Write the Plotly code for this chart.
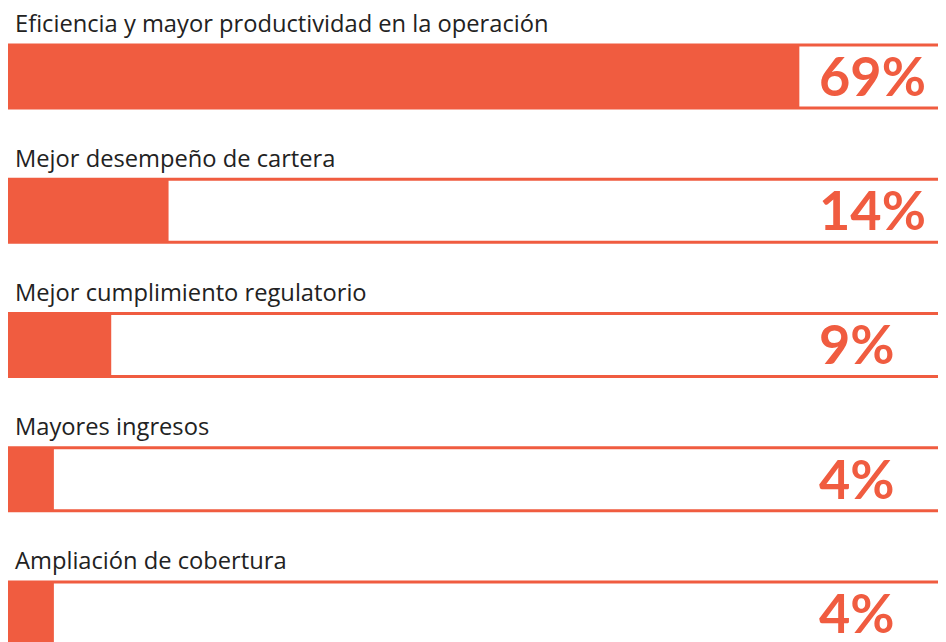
import plotly.graph_objects as go

categories = [
    "Eficiencia y mayor productividad en la operación",
    "Mejor desempeño de cartera",
    "Mejor cumplimiento regulatorio",
    "Mayores ingresos",
    "Ampliación de cobertura",
]
values = [69, 14, 9, 4, 4]
value_labels = ["69%", "14%", "9%", "4%", "4%"]

ORANGE = "#F05C40"
AXIS_MAX = 81.7

idx = list(range(len(categories)))

fig = go.Figure()
# frame (full-length outlined bar)
fig.add_trace(go.Bar(
    y=idx, x=[AXIS_MAX] * len(idx), orientation="h",
    marker=dict(color="white", line=dict(color=ORANGE, width=3)),
    width=0.47, hoverinfo="skip", showlegend=False,
))
# filled value bar
fig.add_trace(go.Bar(
    y=idx, x=values, orientation="h",
    marker=dict(color=ORANGE, line=dict(width=0)),
    width=0.47, showlegend=False,
    hovertext=categories, hoverinfo="text+x",
))

annotations = []
for i, (cat, lab) in enumerate(zip(categories, value_labels)):
    annotations.append(dict(
        x=5 / 937, xref="paper", y=i, yref="y", yshift=53,
        text=cat, showarrow=False, xanchor="left", yanchor="middle",
        font=dict(family="Open Sans", size=23.7, color="#222222"),
    ))
    annotations.append(dict(
        x=809 / 937, xref="paper", y=i, yref="y", yshift=1,
        text=lab, showarrow=False, xanchor="left", yanchor="middle",
        font=dict(family="Lato", size=54, color=ORANGE, weight="bold"),
    ))

fig.update_layout(
    width=946, height=642,
    margin=dict(l=0, r=9, t=0, b=0),
    paper_bgcolor="white", plot_bgcolor="white",
    barmode="overlay",
    xaxis=dict(range=[0, AXIS_MAX], visible=False, fixedrange=True),
    yaxis=dict(range=[4.272, -0.510], visible=False, fixedrange=True),
    annotations=annotations,
)

fig.write_html("out.html")
